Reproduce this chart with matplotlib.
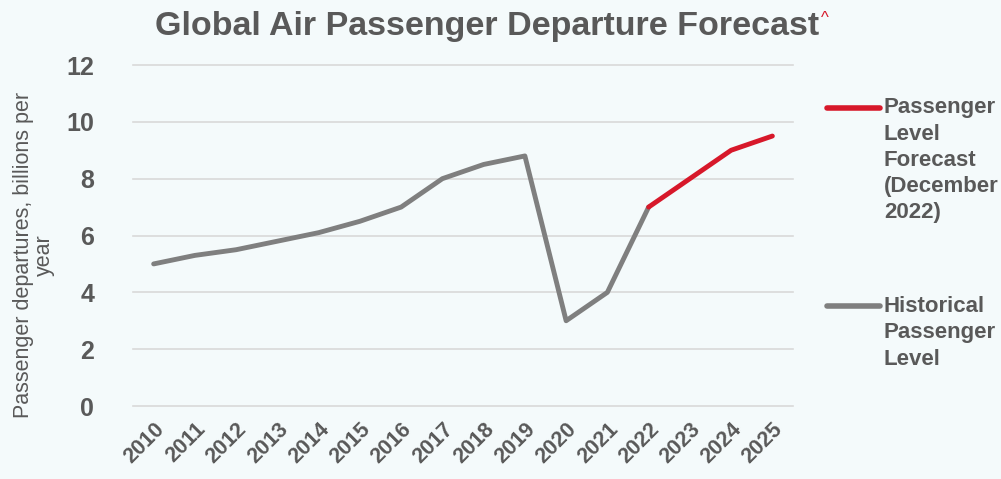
import matplotlib.pyplot as plt
from matplotlib.lines import Line2D

# Dados
anos = [str(a) for a in range(2010, 2026)]
anos_hist = anos[:13]
valores_hist = [5.0, 5.3, 5.5, 5.8, 6.1, 6.5, 7.0, 8.0, 8.5, 8.8, 3.0, 4.0, 7.0]
anos_prev = anos[12:]
valores_prev = [7.0, 8.0, 9.0, 9.5]

cor_texto = "#595959"
cor_hist = "#7f7f7f"
cor_prev = "#d7182a"
fundo = "#f4fafb"

plt.rcParams["font.family"] = ["Liberation Sans", "DejaVu Sans"]

fig = plt.figure(figsize=(10.01, 4.79), dpi=100, facecolor=fundo)
ax = fig.add_axes([0.1329, 0.1524, 0.6593, 0.7119], facecolor=fundo)

x_hist = list(range(len(anos_hist)))
x_prev = list(range(12, 12 + len(anos_prev)))
ax.plot(x_hist, valores_hist, color=cor_hist, linewidth=3.5, solid_capstyle="round")
ax.plot(x_prev, valores_prev, color=cor_prev, linewidth=3.5, solid_capstyle="round")

ax.set_xlim(-0.5, len(anos) - 0.5)
ax.set_ylim(0, 12)
ax.set_yticks(range(0, 13, 2))
ax.set_xticks(range(len(anos)))
ax.set_xticklabels(anos, rotation=45, ha="right", rotation_mode="anchor")
ax.grid(axis="y", color="#d9d9d9", linewidth=1.2)
for g in ax.get_ygridlines():
    g.set_clip_on(False)
ax.set_axisbelow(True)
for s in ax.spines.values():
    s.set_visible(False)
ax.tick_params(axis="both", length=0, colors=cor_texto)
ax.tick_params(axis="y", pad=28, labelsize=18)
ax.tick_params(axis="x", pad=9, labelsize=15.5)
for t in ax.get_yticklabels() + ax.get_xticklabels():
    t.set_fontweight("bold")

ax.set_ylabel("Passenger departures, billions per\nyear", fontsize=15.5,
              color=cor_texto, linespacing=1.0)
ax.yaxis.set_label_coords(-0.118, 0.443)

# Título
fig.text(0.487, 0.945, "Global Air Passenger Departure Forecast", ha="center", va="center",
         fontsize=24.5, fontweight="bold", color=cor_texto)
fig.text(0.824, 0.962, "^", ha="center", va="center", fontsize=12, color=cor_prev)

# Legenda
legenda = [
    (cor_prev, 0.7745, 0.797, "Passenger\nLevel\nForecast\n(December\n2022)"),
    (cor_hist, 0.361, 0.382, "Historical\nPassenger\nLevel"),
]
for cor, y, y_texto, rotulo in legenda:
    fig.add_artist(Line2D([0.826, 0.879], [y, y], transform=fig.transFigure,
                          color=cor, linewidth=4, solid_capstyle="round"))
    fig.text(0.883, y_texto, rotulo, ha="left", va="top", fontsize=16,
             fontweight="bold", color=cor_texto, linespacing=1.33)

plt.savefig("out.png", dpi=100, facecolor=fundo)
